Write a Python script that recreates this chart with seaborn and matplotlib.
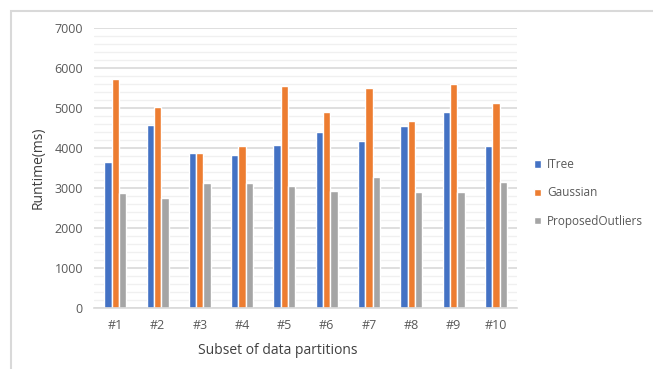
import pandas as pd
import numpy as np
import matplotlib
matplotlib.use("Agg")
import matplotlib.pyplot as plt
from matplotlib.ticker import MultipleLocator
from matplotlib.patches import Rectangle
import seaborn as sns

# Data
partitions = ['#1', '#2', '#3', '#4', '#5', '#6', '#7', '#8', '#9', '#10']
itree = [3640, 4570, 3870, 3820, 4070, 4390, 4170, 4540, 4890, 4040]
gaussian = [5720, 5020, 3870, 4040, 5540, 4890, 5490, 4670, 5590, 5120]
proposed = [2870, 2740, 3120, 3120, 3040, 2920, 3270, 2890, 2890, 3140]
methods = ['ITree', 'Gaussian', 'ProposedOutliers']
colors = ['#4472C4', '#ED7D31', '#A5A5A5']

df = pd.DataFrame({'Partition': partitions, 'ITree': itree,
                   'Gaussian': gaussian, 'ProposedOutliers': proposed})
df = df.melt(id_vars='Partition', var_name='Method', value_name='Runtime')

sns.set_style("white")
plt.rcParams['font.family'] = ['Open Sans', 'DejaVu Sans']

fig = plt.figure(figsize=(6.53, 3.69), dpi=100)
ax = fig.add_axes([0.144, 0.166, 0.648, 0.759])

sns.barplot(data=df, x='Partition', y='Runtime', hue='Method', hue_order=methods,
            palette=colors, width=0.52, saturation=1, ax=ax)

ax.set_ylim(0, 7000)
ax.yaxis.set_major_locator(MultipleLocator(1000))
ax.yaxis.set_minor_locator(MultipleLocator(200))
ax.grid(axis='y', which='major', color='#d9d9d9', linewidth=1.2)
ax.grid(axis='y', which='minor', color='#f0f0f0', linewidth=1.0)
ax.set_axisbelow(True)
for s in ['top', 'right', 'left']:
    ax.spines[s].set_visible(False)
ax.spines['bottom'].set_color('#d9d9d9')
ax.spines['bottom'].set_linewidth(1.2)
ax.tick_params(axis='both', which='both', length=0, labelsize=9, colors='#595959')
ax.tick_params(axis='x', pad=8)
ax.tick_params(axis='y', pad=8)

ax.set_xlabel('Subset of data partitions', fontsize=10, color='#404040')
ax.xaxis.set_label_coords(0.433, -0.125)
ax.set_ylabel('Runtime(ms)', fontsize=10, color='#404040')
ax.yaxis.set_label_coords(-0.115, 0.5)

leg = ax.legend(loc='center left', bbox_to_anchor=(1.015, 0.41), frameon=False,
                fontsize=8.5, handlelength=0.6, handleheight=0.6, handletextpad=0.5,
                labelspacing=1.3)
for t in leg.get_texts():
    t.set_color('#595959')

# chart border (top and left visible)
fig.patches.append(Rectangle((11 / 653, -0.1), 1.2, 1 - 11 / 369 + 0.1,
                             transform=fig.transFigure, fill=False,
                             edgecolor='#d9d9d9', linewidth=1.5))

fig.savefig('out.png', dpi=100)
